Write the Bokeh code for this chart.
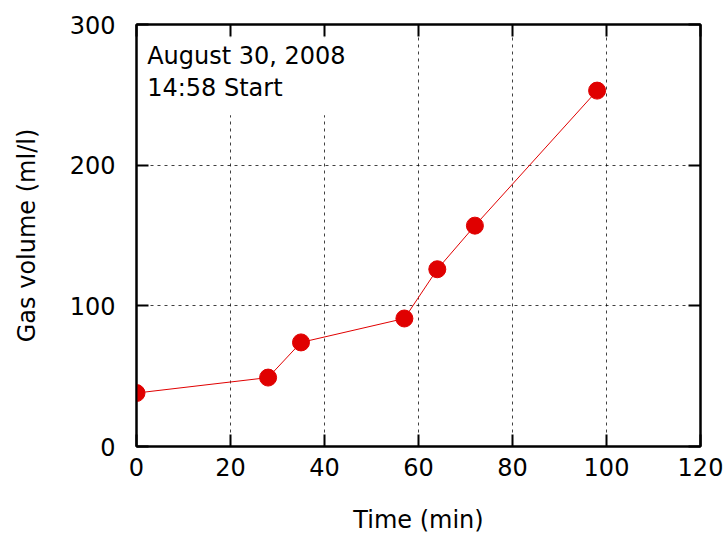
from bokeh.plotting import figure
from bokeh.models import LinearAxis, SingleIntervalTicker, Label, Range1d, CustomJSTickFormatter
from bokeh.embed import file_html
from bokeh.resources import INLINE

time_min = [0, 28, 35, 57, 64, 72, 98]
gas_volume = [38, 49, 74, 91, 126, 157, 253]
annotation_lines = ["August 30, 2008", "14:58 Start"]

FONT = "DejaVu Sans"
FS = "24px"
RED = "#e00000"

p = figure(width=725, height=537, output_backend="svg", toolbar_location=None,
           x_range=Range1d(0, 120), y_range=Range1d(0, 300),
           x_axis_label="Time (min)", y_axis_label="Gas volume (ml/l)",
           min_border_left=136, min_border_right=25, min_border_top=24,
           min_border_bottom=91)

xt = SingleIntervalTicker(interval=20, num_minor_ticks=0)
yt = SingleIntervalTicker(interval=100, num_minor_ticks=0)

for ax in p.xaxis:
    ax.ticker = xt
    ax.major_label_standoff = 11
    ax.axis_label_standoff = 27
for ax in p.yaxis:
    ax.ticker = yt
    ax.major_label_standoff = 21
    ax.axis_label_standoff = 26

for ax in p.axis:
    ax.major_tick_in = 12
    ax.major_tick_out = 0
    ax.minor_tick_in = 0
    ax.minor_tick_out = 0
    ax.axis_line_width = 2
    ax.major_tick_line_width = 2
    ax.major_label_text_font = FONT
    ax.major_label_text_font_size = FS
    ax.major_label_text_color = "black"
    ax.axis_label_text_font = FONT
    ax.axis_label_text_font_size = FS
    ax.axis_label_text_font_style = "normal"
    ax.axis_label_text_color = "black"

blank = CustomJSTickFormatter(code="return ''")
top = LinearAxis(ticker=xt, formatter=blank, major_label_standoff=0,
                 major_tick_in=12, major_tick_out=0, minor_tick_in=0, minor_tick_out=0,
                 axis_line_width=2, major_tick_line_width=2)
right = LinearAxis(ticker=yt, formatter=blank, major_label_standoff=0,
                   major_tick_in=12, major_tick_out=0, minor_tick_in=0, minor_tick_out=0,
                   axis_line_width=2, major_tick_line_width=2)
p.add_layout(top, "above")
p.add_layout(right, "right")

p.xgrid.ticker = xt
p.ygrid.ticker = yt
for g in p.grid:
    g.grid_line_color = "black"
    g.grid_line_alpha = 0.75
    g.grid_line_width = 1
    g.grid_line_dash = "3 4"

p.outline_line_color = "black"
p.outline_line_width = 2
p.background_fill_color = "white"
p.border_fill_color = "white"

p.line(time_min, gas_volume, line_color=RED, line_width=1)
p.scatter(time_min, gas_volume, size=17, fill_color=RED, line_color=RED)

lab = Label(x=1.2, y=291, text="\n".join(annotation_lines), text_font=FONT,
            text_font_size=FS, anchor="top_left", text_color="black",
            background_fill_color="white",
            padding=dict(left=5, right=5, top=5, bottom=13),
            text_line_height=1.15)
p.add_layout(lab)

open("out.html", "w").write(file_html(p, INLINE))
